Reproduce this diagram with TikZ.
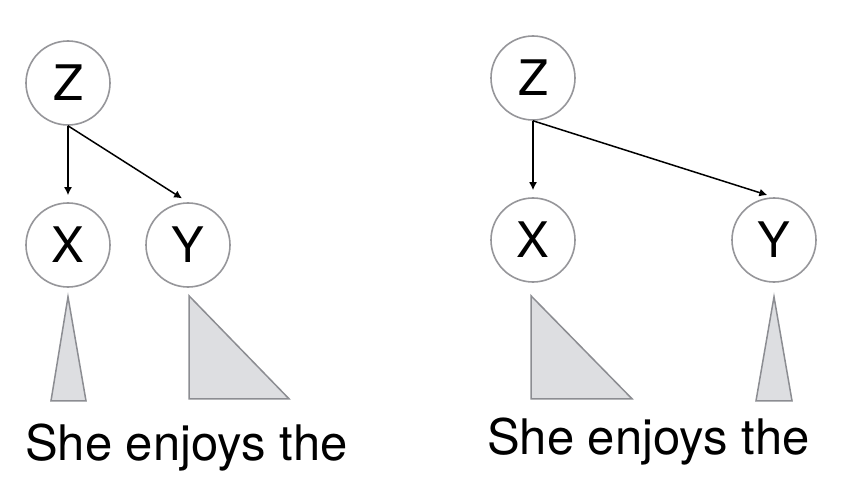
\documentclass[tikz,border=0pt]{standalone}
\usepackage{fontspec}
\setmainfont{TeX Gyre Heros}
\usepackage{tikz}
\usetikzlibrary{calc,positioning,arrows.meta}

\definecolor{ringgray}{RGB}{150,150,154}
\definecolor{wedgegray}{RGB}{140,141,146}
\definecolor{wedgefill}{RGB}{221,222,225}

\begin{document}
\begin{tikzpicture}[x=1pt,y=-1pt]

\useasboundingbox (0,0) rectangle (849,492);

\tikzstyle{var} = [circle, draw=ringgray, line width=1.6pt, minimum size=84pt, inner sep=0pt, font=\fontsize{49}{56}\selectfont]
\tikzstyle{edge} = [-{Latex[length=8pt,width=8pt]}, line width=1.5pt, shorten >=7pt]
\tikzstyle{wedge} = [fill=wedgefill, draw=wedgegray, line width=1.5pt]
\tikzstyle{words} = [anchor=base west, inner sep=0pt, font=\fontsize{49}{56}\selectfont]

% left tree
\node [var] (z1) at (68,83) {Z};
\node [var] (x1) at (68,245) {X};
\node [var] (y1) at (188,245) {Y};
\draw [edge] (z1.south) -- (x1.north);
\draw [edge] (z1.south) -- (y1.north);

\draw [wedge] ($(x1.south)+(0,9)$) -- ($(x1.south)+(-17,113)$) -- ($(x1.south)+(18,113)$) -- cycle;
\draw [wedge] ($(y1.south)+(1,8)$) -- ($(y1.south)+(1,111)$) -- ($(y1.south)+(101,111)$) -- cycle;

\node [words] (s1) at (25,460) {She enjoys the};

% right tree
\node [var] (z2) at (533,78) {Z};
\node [var] (x2) at (533,240) {X};
\node [var] (y2) at (774,240) {Y};
\draw [edge] (z2.south) -- (x2.north);
\draw [edge] (z2.south) -- (y2.north);

\draw [wedge] ($(x2.south)+(-2,13)$) -- ($(x2.south)+(-2,116)$) -- ($(x2.south)+(99,116)$) -- cycle;
\draw [wedge] ($(y2.south)+(0,14)$) -- ($(y2.south)+(-18,118)$) -- ($(y2.south)+(18,118)$) -- cycle;

\node [words] (s2) at (487,454) {She enjoys the};

\end{tikzpicture}
\end{document}
